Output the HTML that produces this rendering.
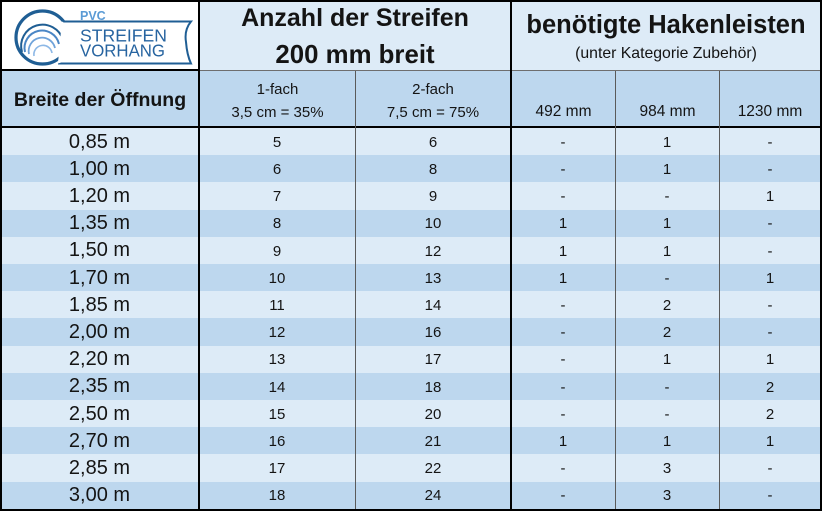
<!DOCTYPE html>
<html>
<head>
<meta charset="utf-8">
<style>
  html, body { margin:0; padding:0; }
  body { width:824px; height:512px; position:relative; background:#fff; overflow:hidden;
         font-family:"Liberation Sans", sans-serif; color:#141414; }
  .a { position:absolute; }
  .t { position:absolute; text-align:center; white-space:nowrap; }
  .ln { position:absolute; background:#000; }
  .th { position:absolute; background:#5a5a5a; }
  .r { position:absolute; left:2px; width:818px; height:27.2px; }
  .L { background:#DDEBF7; }
  .D { background:#BDD7EE; }
  .c1 { font-size:20px; }
  .cn { font-size:15px; }
</style>
</head>
<body>
<!-- backgrounds -->
<div class="a" style="left:0;top:0;width:822px;height:511px;background:#DDEBF7"></div>
<div class="a" style="left:2px;top:2px;width:196px;height:68px;background:#fff"></div>
<div class="a D" style="left:2px;top:71px;width:818px;height:56px"></div>

<!-- data rows -->
<div class="r L" style="top:128px"></div>
<div class="r D" style="top:155.2px"></div>
<div class="r L" style="top:182.4px"></div>
<div class="r D" style="top:209.6px"></div>
<div class="r L" style="top:236.8px"></div>
<div class="r D" style="top:264px"></div>
<div class="r L" style="top:291.2px"></div>
<div class="r D" style="top:318.4px"></div>
<div class="r L" style="top:345.6px"></div>
<div class="r D" style="top:372.8px"></div>
<div class="r L" style="top:400px"></div>
<div class="r D" style="top:427.2px"></div>
<div class="r L" style="top:454.4px"></div>
<div class="r D" style="top:481.6px"></div>

<!-- logo -->
<svg class="a" style="left:0;top:0" width="198" height="70" viewBox="0 0 198 70">
  <circle cx="42.5" cy="37.5" r="26.5" fill="#fff" stroke="#1F5E94" stroke-width="3.2"/>
  <path d="M 22 52 A 21 21 0 1 1 63 40" fill="none" stroke="#1F5E94" stroke-width="2"/>
  <path d="M 25 52 A 17 17 0 1 1 59 44" fill="none" stroke="#4A86C5" stroke-width="2"/>
  <path d="M 29 54 A 13 13 0 1 1 55 48" fill="none" stroke="#6FA3DA" stroke-width="1.8"/>
  <path d="M 34 56 A 9 9 0 1 1 52 53" fill="none" stroke="#8DB8E6" stroke-width="1.6"/>
  <path d="M 62 21.5 L 191 21.5 Q 184 30 186 42 Q 187 55 191 63.5 L 58 63.5" fill="#fff" stroke="#1F5E94" stroke-width="2"/>
  <path d="M 62 21.5 L 66 24 L 66 61 L 58 63.5" fill="#fff" stroke="none"/>
  <text x="80" y="20" font-family="Liberation Sans, sans-serif" font-weight="bold" font-size="12.5" fill="#5B9BD5">PVC</text>
  <text x="80" y="41.5" font-family="Liberation Sans, sans-serif" font-size="17.6" fill="#2764A0" textLength="87" lengthAdjust="spacingAndGlyphs">STREIFEN</text>
  <text x="80" y="56.5" font-family="Liberation Sans, sans-serif" font-size="17.6" fill="#2764A0" textLength="85" lengthAdjust="spacingAndGlyphs">VORHANG</text>
</svg>

<!-- lines -->
<div class="th" style="left:200px;top:69.5px;width:621px;height:1.5px;background:#6e6e6e"></div>
<div class="ln" style="left:0;top:69px;width:200px;height:2px"></div>
<div class="ln" style="left:0;top:126px;width:822px;height:2px"></div>
<div class="th" style="left:355px;top:71px;width:1px;height:438px"></div>
<div class="th" style="left:615px;top:71px;width:1px;height:438px"></div>
<div class="th" style="left:719px;top:71px;width:1px;height:438px"></div>
<div class="ln" style="left:198px;top:0;width:2px;height:511px"></div>
<div class="ln" style="left:510px;top:0;width:2px;height:511px"></div>
<div class="ln" style="left:0;top:0;width:822px;height:2px"></div>
<div class="ln" style="left:0;top:0;width:2px;height:511px"></div>
<div class="ln" style="left:820px;top:0;width:2px;height:511px"></div>
<div class="ln" style="left:0;top:509px;width:822px;height:2px"></div>

<!-- header text -->
<div class="t" style="left:200px;width:310px;top:3px;height:30px;line-height:30px;font-size:25px;font-weight:bold">Anzahl der Streifen</div>
<div class="t" style="left:200px;width:310px;top:40px;height:30px;line-height:30px;font-size:25.8px;font-weight:bold">200 mm breit</div>
<div class="t" style="left:512px;width:308px;top:10px;height:30px;line-height:30px;font-size:25.5px;font-weight:bold">benötigte Hakenleisten</div>
<div class="t" style="left:512px;width:308px;top:44px;height:20px;line-height:20px;font-size:15.8px">(unter Kategorie Zubehör)</div>

<div class="t" style="left:2px;width:196px;top:87px;height:26px;line-height:26px;font-size:19.5px;font-weight:bold">Breite der Öffnung</div>
<div class="t" style="left:200px;width:155px;top:80px;height:20px;line-height:20px;font-size:15px">1-fach</div>
<div class="t" style="left:200px;width:155px;top:103px;height:20px;line-height:20px;font-size:15px">3,5 cm = 35%</div>
<div class="t" style="left:356px;width:154px;top:80px;height:20px;line-height:20px;font-size:15px">2-fach</div>
<div class="t" style="left:356px;width:154px;top:103px;height:20px;line-height:20px;font-size:15px">7,5 cm = 75%</div>
<div class="t" style="left:512px;width:103px;top:102px;height:20px;line-height:20px;font-size:15.5px">492 mm</div>
<div class="t" style="left:616px;width:103px;top:102px;height:20px;line-height:20px;font-size:15.5px">984 mm</div>
<div class="t" style="left:720px;width:100px;top:102px;height:20px;line-height:20px;font-size:15.5px">1230 mm</div>

<!-- data text -->
<div id="data"></div>
<div class="t c1" style="left:0;width:199px;top:128.6px;line-height:27.2px">0,85 m</div>
<div class="t c1" style="left:0;width:199px;top:155.8px;line-height:27.2px">1,00 m</div>
<div class="t c1" style="left:0;width:199px;top:183px;line-height:27.2px">1,20 m</div>
<div class="t c1" style="left:0;width:199px;top:210.2px;line-height:27.2px">1,35 m</div>
<div class="t c1" style="left:0;width:199px;top:237.4px;line-height:27.2px">1,50 m</div>
<div class="t c1" style="left:0;width:199px;top:264.6px;line-height:27.2px">1,70 m</div>
<div class="t c1" style="left:0;width:199px;top:291.8px;line-height:27.2px">1,85 m</div>
<div class="t c1" style="left:0;width:199px;top:319px;line-height:27.2px">2,00 m</div>
<div class="t c1" style="left:0;width:199px;top:346.2px;line-height:27.2px">2,20 m</div>
<div class="t c1" style="left:0;width:199px;top:373.4px;line-height:27.2px">2,35 m</div>
<div class="t c1" style="left:0;width:199px;top:400.6px;line-height:27.2px">2,50 m</div>
<div class="t c1" style="left:0;width:199px;top:427.8px;line-height:27.2px">2,70 m</div>
<div class="t c1" style="left:0;width:199px;top:455px;line-height:27.2px">2,85 m</div>
<div class="t c1" style="left:0;width:199px;top:482.2px;line-height:27.2px">3,00 m</div>

<!-- column 2: 1-fach -->
<div class="t cn" style="left:217px;width:120px;top:128.8px;line-height:27.2px">5</div>
<div class="t cn" style="left:217px;width:120px;top:156px;line-height:27.2px">6</div>
<div class="t cn" style="left:217px;width:120px;top:183.2px;line-height:27.2px">7</div>
<div class="t cn" style="left:217px;width:120px;top:210.4px;line-height:27.2px">8</div>
<div class="t cn" style="left:217px;width:120px;top:237.6px;line-height:27.2px">9</div>
<div class="t cn" style="left:217px;width:120px;top:264.8px;line-height:27.2px">10</div>
<div class="t cn" style="left:217px;width:120px;top:292px;line-height:27.2px">11</div>
<div class="t cn" style="left:217px;width:120px;top:319.2px;line-height:27.2px">12</div>
<div class="t cn" style="left:217px;width:120px;top:346.4px;line-height:27.2px">13</div>
<div class="t cn" style="left:217px;width:120px;top:373.6px;line-height:27.2px">14</div>
<div class="t cn" style="left:217px;width:120px;top:400.8px;line-height:27.2px">15</div>
<div class="t cn" style="left:217px;width:120px;top:428px;line-height:27.2px">16</div>
<div class="t cn" style="left:217px;width:120px;top:455.2px;line-height:27.2px">17</div>
<div class="t cn" style="left:217px;width:120px;top:482.4px;line-height:27.2px">18</div>

<!-- column 3: 2-fach -->
<div class="t cn" style="left:373px;width:120px;top:128.8px;line-height:27.2px">6</div>
<div class="t cn" style="left:373px;width:120px;top:156px;line-height:27.2px">8</div>
<div class="t cn" style="left:373px;width:120px;top:183.2px;line-height:27.2px">9</div>
<div class="t cn" style="left:373px;width:120px;top:210.4px;line-height:27.2px">10</div>
<div class="t cn" style="left:373px;width:120px;top:237.6px;line-height:27.2px">12</div>
<div class="t cn" style="left:373px;width:120px;top:264.8px;line-height:27.2px">13</div>
<div class="t cn" style="left:373px;width:120px;top:292px;line-height:27.2px">14</div>
<div class="t cn" style="left:373px;width:120px;top:319.2px;line-height:27.2px">16</div>
<div class="t cn" style="left:373px;width:120px;top:346.4px;line-height:27.2px">17</div>
<div class="t cn" style="left:373px;width:120px;top:373.6px;line-height:27.2px">18</div>
<div class="t cn" style="left:373px;width:120px;top:400.8px;line-height:27.2px">20</div>
<div class="t cn" style="left:373px;width:120px;top:428px;line-height:27.2px">21</div>
<div class="t cn" style="left:373px;width:120px;top:455.2px;line-height:27.2px">22</div>
<div class="t cn" style="left:373px;width:120px;top:482.4px;line-height:27.2px">24</div>

<!-- column 4: 492 mm -->
<div class="t cn" style="left:513px;width:100px;top:128.8px;line-height:27.2px">-</div>
<div class="t cn" style="left:513px;width:100px;top:156px;line-height:27.2px">-</div>
<div class="t cn" style="left:513px;width:100px;top:183.2px;line-height:27.2px">-</div>
<div class="t cn" style="left:513px;width:100px;top:210.4px;line-height:27.2px">1</div>
<div class="t cn" style="left:513px;width:100px;top:237.6px;line-height:27.2px">1</div>
<div class="t cn" style="left:513px;width:100px;top:264.8px;line-height:27.2px">1</div>
<div class="t cn" style="left:513px;width:100px;top:292px;line-height:27.2px">-</div>
<div class="t cn" style="left:513px;width:100px;top:319.2px;line-height:27.2px">-</div>
<div class="t cn" style="left:513px;width:100px;top:346.4px;line-height:27.2px">-</div>
<div class="t cn" style="left:513px;width:100px;top:373.6px;line-height:27.2px">-</div>
<div class="t cn" style="left:513px;width:100px;top:400.8px;line-height:27.2px">-</div>
<div class="t cn" style="left:513px;width:100px;top:428px;line-height:27.2px">1</div>
<div class="t cn" style="left:513px;width:100px;top:455.2px;line-height:27.2px">-</div>
<div class="t cn" style="left:513px;width:100px;top:482.4px;line-height:27.2px">-</div>

<!-- column 5: 984 mm -->
<div class="t cn" style="left:617px;width:100px;top:128.8px;line-height:27.2px">1</div>
<div class="t cn" style="left:617px;width:100px;top:156px;line-height:27.2px">1</div>
<div class="t cn" style="left:617px;width:100px;top:183.2px;line-height:27.2px">-</div>
<div class="t cn" style="left:617px;width:100px;top:210.4px;line-height:27.2px">1</div>
<div class="t cn" style="left:617px;width:100px;top:237.6px;line-height:27.2px">1</div>
<div class="t cn" style="left:617px;width:100px;top:264.8px;line-height:27.2px">-</div>
<div class="t cn" style="left:617px;width:100px;top:292px;line-height:27.2px">2</div>
<div class="t cn" style="left:617px;width:100px;top:319.2px;line-height:27.2px">2</div>
<div class="t cn" style="left:617px;width:100px;top:346.4px;line-height:27.2px">1</div>
<div class="t cn" style="left:617px;width:100px;top:373.6px;line-height:27.2px">-</div>
<div class="t cn" style="left:617px;width:100px;top:400.8px;line-height:27.2px">-</div>
<div class="t cn" style="left:617px;width:100px;top:428px;line-height:27.2px">1</div>
<div class="t cn" style="left:617px;width:100px;top:455.2px;line-height:27.2px">3</div>
<div class="t cn" style="left:617px;width:100px;top:482.4px;line-height:27.2px">3</div>

<!-- column 6: 1230 mm -->
<div class="t cn" style="left:720px;width:100px;top:128.8px;line-height:27.2px">-</div>
<div class="t cn" style="left:720px;width:100px;top:156px;line-height:27.2px">-</div>
<div class="t cn" style="left:720px;width:100px;top:183.2px;line-height:27.2px">1</div>
<div class="t cn" style="left:720px;width:100px;top:210.4px;line-height:27.2px">-</div>
<div class="t cn" style="left:720px;width:100px;top:237.6px;line-height:27.2px">-</div>
<div class="t cn" style="left:720px;width:100px;top:264.8px;line-height:27.2px">1</div>
<div class="t cn" style="left:720px;width:100px;top:292px;line-height:27.2px">-</div>
<div class="t cn" style="left:720px;width:100px;top:319.2px;line-height:27.2px">-</div>
<div class="t cn" style="left:720px;width:100px;top:346.4px;line-height:27.2px">1</div>
<div class="t cn" style="left:720px;width:100px;top:373.6px;line-height:27.2px">2</div>
<div class="t cn" style="left:720px;width:100px;top:400.8px;line-height:27.2px">2</div>
<div class="t cn" style="left:720px;width:100px;top:428px;line-height:27.2px">1</div>
<div class="t cn" style="left:720px;width:100px;top:455.2px;line-height:27.2px">-</div>
<div class="t cn" style="left:720px;width:100px;top:482.4px;line-height:27.2px">-</div>
</body>
</html>
